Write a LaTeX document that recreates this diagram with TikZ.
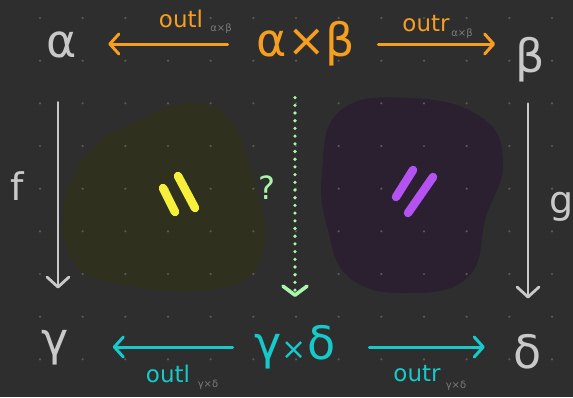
\documentclass[tikz,border=0pt]{standalone}
\usepackage{fontspec}
\setmainfont{DejaVu Sans}
\usetikzlibrary{arrows.meta}
\definecolor{bg}{HTML}{2E2E2E}
\definecolor{dotc}{HTML}{5A5A5A}
\definecolor{grayc}{HTML}{C9C9C9}
\definecolor{subgray}{HTML}{7A7A7A}
\definecolor{orangec}{HTML}{F59E1F}
\definecolor{cyanc}{HTML}{14CACA}
\definecolor{greenc}{HTML}{A9F5A9}
\definecolor{yblob}{HTML}{30301F}
\definecolor{pblob}{HTML}{2A2030}
\definecolor{ystroke}{HTML}{F7F03B}
\definecolor{pstroke}{HTML}{B452F2}
\begin{document}
\begin{tikzpicture}[x=1pt,y=-1pt,
  big/.style={font=\fontsize{46}{46}\selectfont, inner sep=0pt},
  lab/.style={font=\fontsize{23}{23}\selectfont, inner sep=0pt},
  sublab/.style={font=\fontsize{10}{10}\selectfont, text=subgray, inner sep=0pt},
  side/.style={font=\fontsize{38}{38}\selectfont, inner sep=0pt, text=grayc},
  harrow/.style={line width=3pt, line cap=round, -{Straight Barb[length=9pt,width=20pt,round]}},
  varrow/.style={grayc, line width=2.8pt, line cap=round, -{Straight Barb[length=10pt,width=22pt,round]}},
  darrow/.style={greenc, line width=3.6pt, line cap=round, dash pattern=on 0pt off 7.7pt, -{Straight Barb[length=9pt,width=24pt,round]}},
  eqstroke/.style={line width=8.5pt, line cap=round},
]
\fill[bg] (0,0) rectangle (573,397);
\useasboundingbox (0,0) rectangle (573,397);
% blobs
\fill[yblob] plot[smooth cycle, tension=0.75] coordinates {(187,103) (228,117) (248,160) (261,207) (263,252) (240,282) (180,291) (110,282) (76,265) (63,228) (70,182) (95,146) (127,126)};
\fill[pblob] plot[smooth cycle, tension=0.75] coordinates {(410,98) (481,117) (503,163) (486,217) (468,277) (407,293) (350,278) (328,230) (322,173) (340,111)};
% dot grid
\foreach \i in {0,...,12}
  \foreach \j in {0,...,8}
    \fill[dotc] (40+42.667*\i, 18+42.667*\j) circle (1.2);
% equality strokes
\draw[ystroke, eqstroke] (163,188) -- (175,212);
\draw[ystroke, eqstroke] (178,176) -- (195,208);
\draw[pstroke, eqstroke] (413,170) -- (396,197);
\draw[pstroke, eqstroke] (433,177) -- (408,213);
% objects
\node[big, text=grayc] (a) at (62,45) {α};
\node[big, text=orangec] (ab) at (306,44) {α×β};
\node[big, text=grayc] (b) at (530,60) {β};
\node[big, text=grayc] (c) at (55,348) {γ};
\node[big, text=cyanc] (cd) at (295,347) {γ{\fontsize{30}{30}\selectfont ×}δ};
\node[big, text=grayc] (d) at (528,352) {δ};
% labels
\node[lab, text=orangec] (l1) at (181,19) {outl};
\node[sublab] (s1) at (221,29) {α×β};
\node[lab, text=orangec] (l2) at (426,24) {outr};
\node[sublab] (s2) at (462,34) {α×β};
\node[lab, text=cyanc] (l3) at (168,374) {outl};
\node[sublab] (s3) at (208,385) {γ×δ};
\node[lab, text=cyanc] (l4) at (417,374) {outr};
\node[sublab] (s4) at (456,386) {γ×δ};
\node[side] (f) at (17,186) {f};
\node[side] (g) at (562,207) {g};
\node[font=\fontsize{32}{32}\selectfont, inner sep=0pt, text=greenc] (q) at (267,188) {?};
% connectors
\draw[harrow, orangec, shorten <=29pt, shorten >=31pt] (ab.west) -- (ab.west -| a.east);
\draw[harrow, orangec, shorten <=23pt, shorten >=20pt] (ab.east) -- (ab.east -| b.west);
\draw[harrow, cyanc, shorten <=22pt, shorten >=44pt] (cd.west) -- (cd.west -| c.east);
\draw[harrow, cyanc, shorten <=34pt, shorten >=29pt] (cd.east) -- (cd.east -| d.west);
\draw[varrow, shorten <=44pt, shorten >=42pt] ([xshift=-4pt]a.south) -- ([xshift=3pt]c.north);
\draw[varrow, shorten <=21pt, shorten >=36pt] ([xshift=-2pt]b.south) -- (d.north);
\draw[darrow, shorten <=31pt, shorten >=28pt] ([xshift=-11pt]ab.south) -- (cd.north);
\end{tikzpicture}
\end{document}
